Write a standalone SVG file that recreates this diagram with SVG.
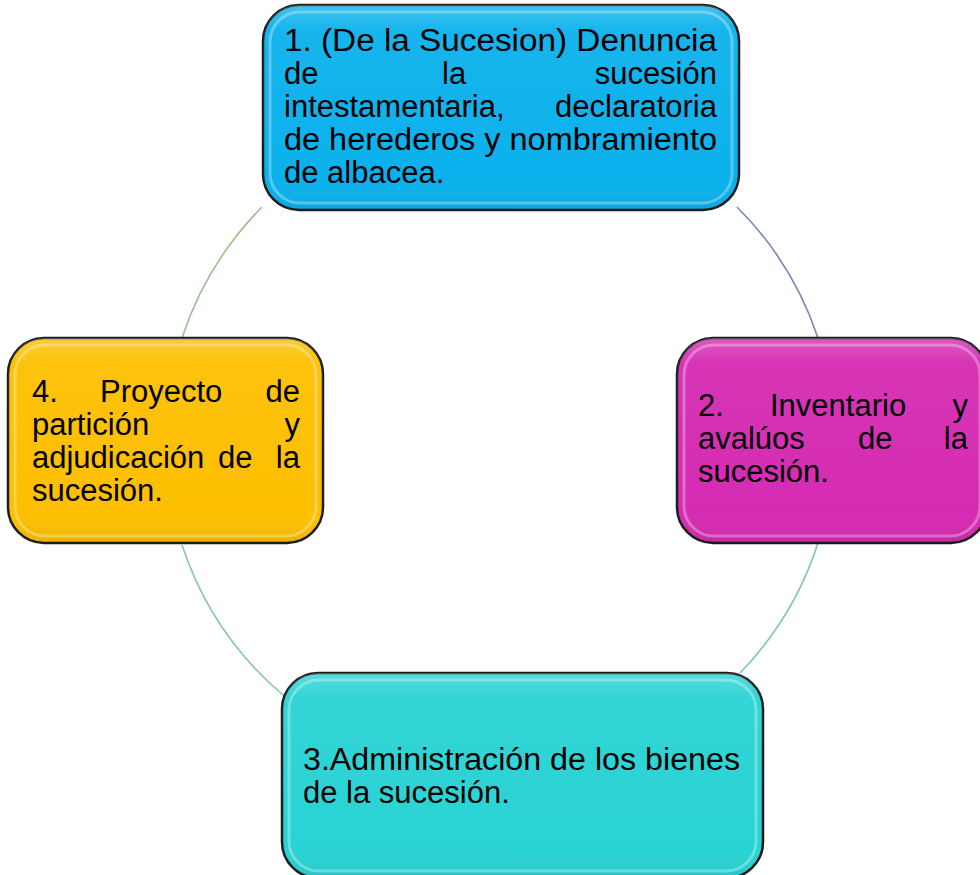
<svg xmlns="http://www.w3.org/2000/svg" width="980" height="875" viewBox="0 0 980 875">
<style>
.box{stroke:#1c1c1c;stroke-width:2.5}
.hl{fill:none;stroke:#ffffff;stroke-opacity:0.3;stroke-width:3}
.gl{fill:url(#gloss)}
.t{font-family:"Liberation Sans",Arial,sans-serif;font-size:31px;fill:#000}
.e{text-anchor:end}
.arc{fill:none;stroke-width:1.6}
</style>
<defs>
<linearGradient id="gloss" x1="0" y1="0" x2="0" y2="1">
<stop offset="0" stop-color="#ffffff" stop-opacity="0.22"/>
<stop offset="0.12" stop-color="#ffffff" stop-opacity="0.05"/>
<stop offset="0.85" stop-color="#ffffff" stop-opacity="0"/>
<stop offset="1" stop-color="#000000" stop-opacity="0.08"/>
</linearGradient>
</defs>
<rect width="980" height="875" fill="#ffffff"/>
<g id="connectors">
<path class="arc" stroke="#7787b8" d="M 737 207 A 334 334 0 0 1 818 338"/>
<path class="arc" stroke="#7cc4b6" d="M 818 543 A 334 334 0 0 1 740 673"/>
<path class="arc" stroke="#86c8a2" d="M 283 695 A 334 334 0 0 1 182 545"/>
<path class="arc" stroke="#9dbf8e" d="M 182 338 A 334 334 0 0 1 262 207"/>
</g>
<g id="node1">
<rect class="box" x="263" y="5" width="476" height="205" rx="36" fill="#0bb1ec"/>
<rect class="gl" x="263" y="5" width="476" height="205" rx="36"/>
<rect class="hl" x="270" y="12" width="462" height="191" rx="30"/>
<text class="t" x="284" y="51" textLength="433" lengthAdjust="spacingAndGlyphs">1. (De la Sucesion) Denuncia</text>
<text class="t" x="284" y="84">de</text>
<text class="t" x="442" y="84">la</text>
<text class="t e" x="717" y="84">sucesión</text>
<text class="t" x="284" y="117">intestamentaria,</text>
<text class="t e" x="717" y="117">declaratoria</text>
<text class="t" x="284" y="150" textLength="433" lengthAdjust="spacingAndGlyphs">de herederos y nombramiento</text>
<text class="t" x="284" y="183">de albacea.</text>
</g>
<g id="node2">
<rect class="box" x="677" y="338" width="310" height="205" rx="36" fill="#d52bb2"/>
<rect class="gl" x="677" y="338" width="310" height="205" rx="36"/>
<rect class="hl" x="684" y="345" width="296" height="191" rx="30"/>
<text class="t" x="698" y="416">2.</text>
<text class="t" x="770" y="416">Inventario</text>
<text class="t e" x="968" y="416">y</text>
<text class="t" x="698" y="449">avalúos</text>
<text class="t" x="858" y="449">de</text>
<text class="t e" x="968" y="449">la</text>
<text class="t" x="698" y="482">sucesión.</text>
</g>
<g id="node3">
<rect class="box" x="282" y="673" width="481" height="205" rx="36" fill="#29d3d4"/>
<rect class="gl" x="282" y="673" width="481" height="205" rx="36"/>
<rect class="hl" x="289" y="680" width="467" height="191" rx="30"/>
<text class="t" x="303" y="770" textLength="437" lengthAdjust="spacingAndGlyphs">3.Administración de los bienes</text>
<text class="t" x="303" y="803">de la sucesión.</text>
</g>
<g id="node4">
<rect class="box" x="8" y="338" width="315" height="205" rx="36" fill="#fdbf00"/>
<rect class="gl" x="8" y="338" width="315" height="205" rx="36"/>
<rect class="hl" x="15" y="345" width="301" height="191" rx="30"/>
<text class="t" x="32" y="402">4.</text>
<text class="t" x="100" y="402">Proyecto</text>
<text class="t e" x="300" y="402">de</text>
<text class="t" x="32" y="435">partición</text>
<text class="t e" x="300" y="435">y</text>
<text class="t" x="32" y="468">adjudicación</text>
<text class="t" x="218" y="468">de</text>
<text class="t e" x="300" y="468">la</text>
<text class="t" x="32" y="501">sucesión.</text>
</g>
</svg>
